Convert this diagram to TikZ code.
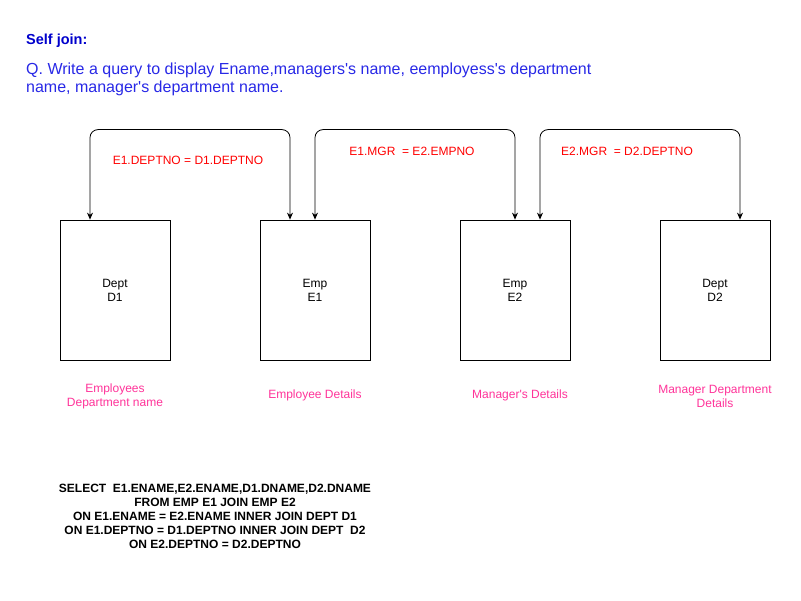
\documentclass[tikz,border=0pt]{standalone}
\usepackage{fontspec}
\setmainfont{Liberation Sans}
\usetikzlibrary{arrows.meta}
\definecolor{titleblue}{RGB}{0,0,204}
\definecolor{qblue}{RGB}{40,40,230}
\definecolor{condred}{RGB}{255,0,0}
\definecolor{pinklbl}{RGB}{255,51,153}
\newcommand{\apos}{\textquotesingle}
\begin{document}
\begin{tikzpicture}[x=1pt,y=-1pt,
  tbl/.style={draw=black,line width=0.8pt,minimum width=110pt,minimum height=140pt,inner sep=0pt,align=center,font=\fontsize{12}{14}\selectfont},
  cond/.style={text=condred,font=\fontsize{12}{14}\selectfont,anchor=center},
  lbl/.style={text=pinklbl,font=\fontsize{12}{14}\selectfont,align=center},
  link/.style={draw=black,line width=0.8pt,rounded corners=8pt,{Stealth[length=7pt,width=6pt]}-{Stealth[length=7pt,width=6pt]}}]
\useasboundingbox (0,0) rectangle (801,601);
\node[anchor=west,inner sep=0pt,text=titleblue,font=\fontsize{14.5}{16}\bfseries\selectfont] (title) at (26,41) {Self join:};
\node[anchor=north west,text=qblue,align=left,inner sep=0pt,font=\fontsize{16}{18}\selectfont] (q) at (26,63) {Q. Write a query to display Ename,managers\apos s name, eemployess\apos s department\\name, manager\apos s department name.};
\node[tbl] (d1) at (115,290) {Dept\\D1};
\node[tbl] (e1) at (315,290) {Emp\\E1};
\node[tbl] (e2) at (515,290) {Emp\\E2};
\node[tbl] (d2) at (715,290) {Dept\\D2};
\draw[link] ([xshift=-25pt]d1.north) -- ++(0,-90) -| ([xshift=-25pt]e1.north);
\draw[link] (e1.north) -- ++(0,-90) -| (e2.north);
\draw[link] ([xshift=25pt]e2.north) -- ++(0,-90) -| ([xshift=25pt]d2.north);
\node[cond] (c1) at (188,160) {E1.DEPTNO = D1.DEPTNO};
\node[cond] (c2) at (412,151) {E1.MGR\ \ = E2.EMPNO};
\node[cond] (c3) at (627,151) {E2.MGR\ \ = D2.DEPTNO};
\node[lbl] (l1) at (115,396) {Employees\\Department name};
\node[lbl] (l2) at (315,395.5) {Employee Details};
\node[lbl] (l3) at (520,395.5) {Manager\apos s Details};
\node[lbl] (l4) at (715,396) {Manager Department\\Details};
\node[align=center,font=\fontsize{12}{14}\bfseries\selectfont] (sql) at (215,516) {SELECT\ \ E1.ENAME,E2.ENAME,D1.DNAME,D2.DNAME\\FROM EMP E1 JOIN EMP E2\\ON E1.ENAME = E2.ENAME INNER JOIN DEPT D1\\ON E1.DEPTNO = D1.DEPTNO INNER JOIN DEPT\ \ D2\\ON E2.DEPTNO = D2.DEPTNO};
\end{tikzpicture}
\end{document}
